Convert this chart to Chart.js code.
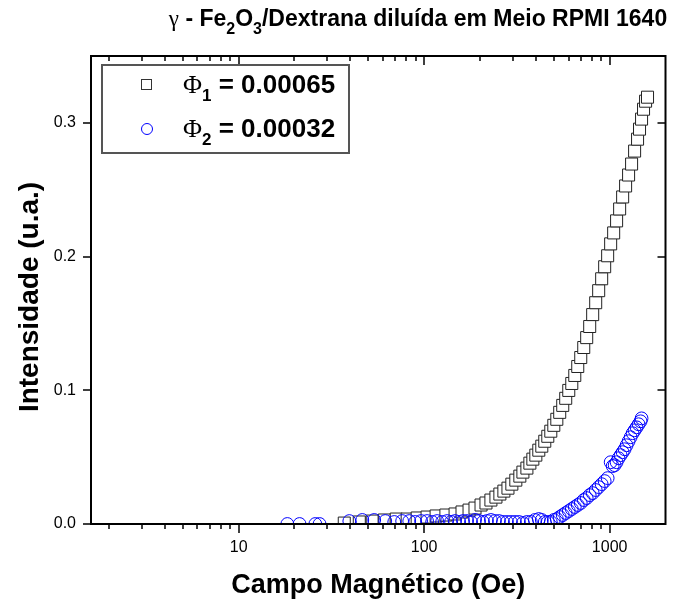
<!DOCTYPE html>
<html>
<head>
<meta charset="utf-8">
<script src="https://cdn.jsdelivr.net/npm/chart.js@4/dist/chart.umd.min.js"></script>
<style>
  body { margin: 0; background: #fff; }
  #wrap { position: relative; width: 675px; height: 604px; font-family: 'Liberation Sans', Arial, sans-serif; }
  #title { position: absolute; left: 418px; top: 4px; transform: translateX(-50%); white-space: nowrap;
           font-weight: bold; font-size: 23px; line-height: 28px; color: #000; }
  #title sub { font-size: 16px; vertical-align: -8px; line-height: 0; }
  .gr { font-family: 'Liberation Serif', 'Times New Roman', serif; font-weight: normal; }
  #legend { position: absolute; left: 101px; top: 64px; width: 245px; height: 86px; border: 2px solid #555; }
  .lab { position: absolute; left: 80px; font-weight: bold; font-size: 26px; line-height: 26px; white-space: nowrap; color: #000; }
  .lab sub { font-size: 17px; vertical-align: -8px; line-height: 0; }
  .sq { position: absolute; left: 38px; top: 13px; width: 9px; height: 9px; border: 1.5px solid #333; }
  .ci { position: absolute; left: 38px; top: 57px; width: 10px; height: 10px; border: 1px solid #0000ff; border-radius: 50%; }
</style>
</head>
<body>
<div id="wrap">
  <canvas id="chart" width="675" height="604"></canvas>
  <div id="title"><span class="gr">γ</span> - Fe<sub>2</sub>O<sub>3</sub>/Dextrana diluída em Meio RPMI 1640</div>
  <div id="legend">
    <div class="sq"></div>
    <div class="lab" style="top:5px"><span class="gr">Φ</span><sub>1</sub> = 0.00065</div>
    <div class="ci"></div>
    <div class="lab" style="top:49px"><span class="gr">Φ</span><sub>2</sub> = 0.00032</div>
  </div>
</div>
<script>
// series 1 : Phi1 = 0.00065 (squares)
const field1 = [37.1, 44.7, 52.5, 61.0, 70.7, 81.0, 91.7, 103.7, 116, 131,
  146.8, 160, 174.6, 188, 202.6, 215.4, 229, 243.8, 256, 269,
  283, 297, 312, 328, 340.7, 358, 371.5, 385.5, 400, 415,
  430.7, 447, 464, 481.6, 500, 519, 538, 558.6, 579.6, 602,
  625, 648.6, 673, 698.5, 725, 752, 780.6, 810, 841, 872.6,
  905.7, 940, 975.5, 1012.5, 1051, 1090, 1132, 1175, 1219, 1265,
  1313, 1363, 1414, 1449, 1486, 1523, 1562, 1600];
const intens1 = [.0007, .0015, .0022, .003, .0037, .0037, .0045, .0052, .006, .0067,
  .0075, .009, .0104, .0119, .0142, .0157, .0179, .0201, .0224, .0246,
  .0268, .0298, .0328, .0358, .0388, .0418, .0455, .0485, .0515, .0552,
  .0582, .0619, .0656, .0694, .0738, .0783, .0835, .0887, .094, .0999,
  .1051, .1111, .1178, .1245, .132, .1394, .1477, .1566, .1655, .1745,
  .1834, .1924, .2006, .2095, .2177, .2267, .2356, .2446, .2528, .261,
  .2692, .2789, .2878, .2953, .3028, .3102, .3162, .3192];

// series 2 : Phi2 = 0.00032 (circles)
const field2 = [18.3, 21.3, 25.9, 27.3, 39.5, 46.4, 53.8, 61.7, 69.0, 76.1,
  83.1, 89.5, 96.3, 103.7, 110.4, 117.5, 125, 133, 139.7, 146.8,
  154.3, 162, 170.3, 178.9, 188, 197.6, 207.6, 218, 229, 240.8,
  253, 265.9, 279.4, 293.6, 308.5, 324.2, 340.7, 358, 376, 395.3,
  415, 430.7, 447, 464, 481.6, 500, 519, 538, 558.6, 579.6,
  602, 625, 648.6, 673, 698.5, 725, 752, 780.6, 810, 841,
  872.6, 905.7, 940, 975.5, 1012.5, 1038, 1064, 1090, 1117, 1146,
  1175, 1204, 1234, 1265, 1297, 1330, 1363, 1397, 1432, 1468, 1486];
const intens2 = [0, 0, 0, 0, .0022, .003, .003, .0022, .0015, .0022,
  .0022, .0015, .0022, .0022, .0015, .0022, .0015, .0022, .0015, .0022,
  .0015, .0022, .0022, .0015, .003, .0022, .0015, .0022, .003, .0022,
  .0022, .0015, .0015, .0015, .0015, .0015, .0007, .0015, .0015, .003,
  .0037, .003, .0015, .0015, .0015, .003, .0037, .0052, .0067, .0082,
  .0097, .0112, .0127, .0142, .0157, .0179, .0194, .0216, .0231, .0254,
  .0276, .0298, .0321, .0343, .0462, .0433, .044, .0462, .0492, .0515,
  .0537, .0559, .0589, .0619, .0649, .0679, .0701, .0723, .0746, .0768, .079];

const xTickValues = [2, 3, 4, 5, 6, 7, 8, 9, 10, 20, 30, 40, 50, 60, 70, 80, 90, 100,
  200, 300, 400, 500, 600, 700, 800, 900, 1000];
const xTickLabels = [10, 100, 1000];
const yTickValues = [0, 0.1, 0.2, 0.3];
const yTitle = 'Intensidade (u.a.)';

const toPoints = (xs, ys) => xs.map((v, i) => ({ x: v, y: ys[i] }));
const sans = "'Liberation Sans', Arial, sans-serif";

// box round the plot + Origin style ticks (out on bottom/left, in on top/right)
const frameTicks = {
  id: 'frameTicks',
  afterDatasetsDraw(chart) {
    const { ctx, chartArea: { left, top, right, bottom }, scales: { x, y } } = chart;
    ctx.save();
    ctx.strokeStyle = '#000';
    ctx.lineWidth = 2;
    ctx.strokeRect(left, top, right - left, bottom - top);
    ctx.lineWidth = 1.5;
    ctx.beginPath();
    xTickValues.forEach(v => {
      const px = Math.round(x.getPixelForValue(v));
      const len = xTickLabels.includes(v) ? 9 : 5;
      ctx.moveTo(px, bottom); ctx.lineTo(px, bottom + len);
      ctx.moveTo(px, top); ctx.lineTo(px, top + len);
    });
    yTickValues.forEach(v => {
      const py = Math.round(y.getPixelForValue(v));
      ctx.moveTo(left - 8, py); ctx.lineTo(left, py);
      ctx.moveTo(right, py); ctx.lineTo(right - 8, py);
    });
    ctx.stroke();
    // y axis title, sits a bit below the middle of the axis in the original
    ctx.translate(30, 297);
    ctx.rotate(-Math.PI / 2);
    ctx.font = 'bold 28px ' + sans;
    ctx.fillStyle = '#000';
    ctx.textAlign = 'center';
    ctx.textBaseline = 'middle';
    ctx.fillText(yTitle, 0, 0);
    ctx.restore();
  }
};

const tickFont = { family: sans, size: 16 };

new Chart(document.getElementById('chart'), {
  type: 'scatter',
  data: {
    datasets: [
      {
        label: 'Φ1 = 0.00065',
        data: toPoints(field1, intens1),
        pointStyle: 'rect',
        pointRadius: 8.5,
        borderWidth: 1,
        borderColor: '#222',
        backgroundColor: '#fff',
        order: 1
      },
      {
        label: 'Φ2 = 0.00032',
        data: toPoints(field2, intens2),
        pointStyle: 'circle',
        pointRadius: 6.4,
        borderWidth: 1,
        borderColor: '#0000ff',
        backgroundColor: 'rgba(0,0,0,0)',
        order: 0
      }
    ]
  },
  options: {
    responsive: false,
    animation: false,
    events: [],
    layout: { padding: { top: 56, right: 8, left: 0, bottom: 0 } },
    plugins: { legend: { display: false }, tooltip: { enabled: false } },
    scales: {
      x: {
        type: 'logarithmic',
        min: 1.6,
        max: 2000,
        afterBuildTicks: s => { s.ticks = xTickValues.map(v => ({ value: v })); },
        afterFit: s => { s.height = 80; },
        grid: { display: false, drawTicks: false },
        border: { display: false },
        ticks: {
          autoSkip: false, maxRotation: 0, padding: 14, color: '#000', font: tickFont,
          callback: v => xTickLabels.includes(v) ? String(v) : ''
        },
        title: { display: true, text: 'Campo Magnético (Oe)', color: '#000',
                 font: { family: sans, size: 27, weight: 'bold' }, padding: { top: 0, bottom: 2 } }
      },
      y: {
        min: 0,
        max: 0.35,
        afterBuildTicks: s => { s.ticks = yTickValues.map(v => ({ value: v })); },
        afterFit: s => { s.width = 91; },
        grid: { display: false, drawTicks: false },
        border: { display: false },
        ticks: { padding: 15, color: '#000', font: tickFont, callback: v => v.toFixed(1) },
        title: { display: false }
      }
    }
  },
  plugins: [frameTicks]
});
</script>
</body>
</html>
